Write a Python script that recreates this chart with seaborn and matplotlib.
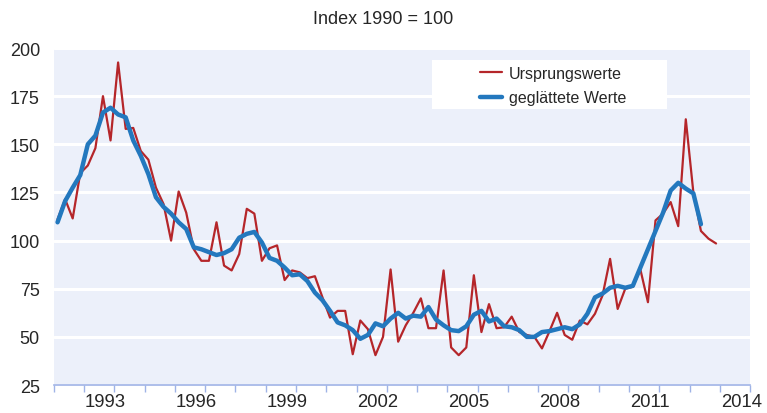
import numpy as np
import pandas as pd
import seaborn as sns
import matplotlib.pyplot as plt
from matplotlib.patches import Rectangle

# Quartalswerte ab 1992 Q1
ursprung = [111, 121.5, 111.5, 135, 139, 148, 175, 152, 192.5, 158, 158.5, 146.5,
            142, 127.5, 119, 100, 125.5, 114.5, 95.5, 89.5, 89.5, 109.5, 87, 84.5,
            93, 116.5, 114, 89.5, 96, 97.5, 79.5, 84.5, 83.5, 80.5, 81.5, 70.5,
            60, 63.5, 63.5, 41, 58.5, 54, 40.5, 50, 85, 47.5, 56, 62.5,
            70, 54.5, 54.5, 84.5, 44.5, 40.5, 44.5, 82, 52.5, 67, 54.5, 55,
            60.5, 52.5, 51, 50, 44, 53, 62.5, 51, 48.5, 58.5, 56.5, 62,
            71.5, 90.5, 64.5, 75, 76, 85, 68, 110.5, 114, 120, 107.5, 163,
            125, 105, 101, 98.5]
geglaettet = [109.5, 120.5, 127.5, 134, 150, 154.5, 166.5, 169, 165.5, 164, 152, 144,
              134.5, 122.5, 117.5, 114, 109.5, 106, 96.5, 95.5, 94, 92.5, 93.5, 95.5,
              101.5, 103.5, 104.5, 99, 91, 89.5, 86, 82, 82.5, 79, 73, 69,
              63.5, 57.5, 56, 53.5, 49, 51, 57, 55.5, 59.5, 62.5, 59.5, 61,
              60.5, 65.5, 59, 56, 53.5, 53, 55.5, 61.5, 63.5, 58, 59.5, 55.5,
              55, 53.5, 50, 50, 52.5, 53, 54, 55, 54, 56.5, 62, 70.5,
              72.5, 75.5, 76.5, 75.5, 76.5, 86, 95.5, 105, 114.5, 126, 130, 127,
              124.5, 108.5]
start_jahr = 1992
jahres_labels = [1993, 1996, 1999, 2002, 2005, 2008, 2011, 2014]

zeit_u = start_jahr + (np.arange(len(ursprung)) + 0.5) / 4
zeit_g = start_jahr + (np.arange(len(geglaettet)) + 0.5) / 4
df_u = pd.DataFrame({'zeit': zeit_u, 'wert': ursprung})
df_g = pd.DataFrame({'zeit': zeit_g, 'wert': geglaettet})

sns.set_style('white')
plt.rcParams['font.family'] = ['Liberation Sans', 'DejaVu Sans']

fig = plt.figure(figsize=(7.67, 4.14), dpi=100)
ax = fig.add_axes([0.0701, 0.0676, 0.9079, 0.814])
ax.set_facecolor('#ECF0FA')

sns.lineplot(data=df_u, x='zeit', y='wert', color='#B5262A', linewidth=1.6,
             label='Ursprungswerte', ax=ax)
sns.lineplot(data=df_g, x='zeit', y='wert', color='#2378BE', linewidth=3.2,
             label='geglättete Werte', ax=ax)

ax.set_xlim(1992, 2015)
ax.set_ylim(25, 200)
ax.set_yticks(range(25, 201, 25))
ax.yaxis.grid(True, color='white', linewidth=2.2)
ax.set_axisbelow(True)

# Jahresstriche an den Grenzen, Beschriftung beginnt am Jahresstrich
ax.set_xticks(range(1992, 2016))
ax.set_xticklabels([])
ax.set_xticks([j + 0.03 for j in jahres_labels], minor=True)
ax.set_xticklabels([str(j) for j in jahres_labels], minor=True, fontsize=13.3,
                   ha='left')
ax.tick_params(axis='x', which='major', direction='out', length=5, width=1,
               color='#9FB3E6', bottom=True)
ax.tick_params(axis='x', which='minor', length=0, pad=6)
ax.tick_params(axis='y', length=0, labelsize=13, pad=10)

for s in ['top', 'right', 'left']:
    ax.spines[s].set_visible(False)
ax.spines['bottom'].set_color('#9FB3E6')
ax.spines['bottom'].set_linewidth(1.2)

ax.set_xlabel('')
ax.set_ylabel('')
fig.text(0.5, 0.952, 'Index 1990 = 100', ha='center', va='center', fontsize=13)

# weisser Kasten hinter der Legende
ax.add_patch(Rectangle((0.543, 0.819), 0.337, 0.145, transform=ax.transAxes,
                       facecolor='white', edgecolor='none', zorder=3))
leg = ax.legend(loc='center left', bbox_to_anchor=(0.612, 0.889), frameon=False,
                fontsize=11.5, handlelength=1.4, handletextpad=0.4,
                borderpad=0, borderaxespad=0, labelspacing=0.6)
leg.set_zorder(4)

fig.savefig('out.png', dpi=100)
